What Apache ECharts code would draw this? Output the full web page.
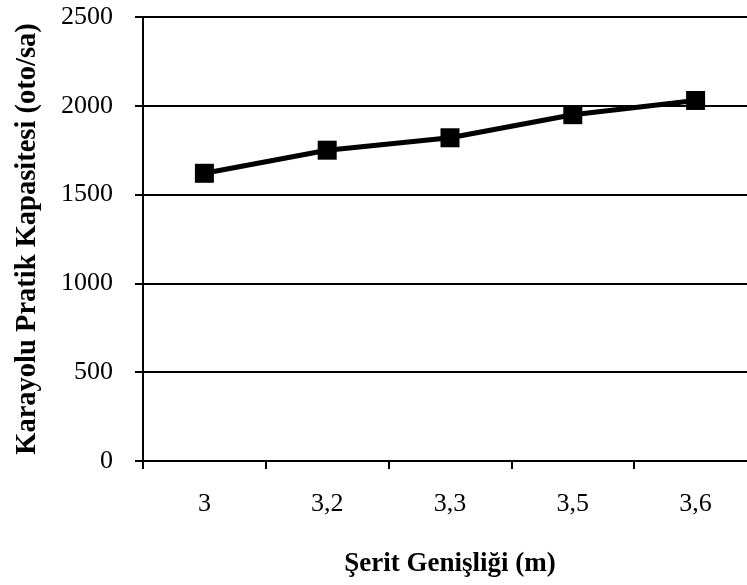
<!DOCTYPE html>
<html><head><meta charset="utf-8">
<script src="https://cdn.jsdelivr.net/npm/echarts@6/dist/echarts.min.js"></script>
<style>html,body{margin:0;padding:0;background:#fff;overflow:hidden}#c{width:760px;height:585px}</style>
</head><body><div id="c"></div>
<script>
const categories = ['3', '3,2', '3,3', '3,5', '3,6'];
const capacity = [1620, 1750, 1820, 1950, 2030];
const yTicks = [0, 500, 1000, 1500, 2000, 2500];
const xTitle = 'Şerit Genişliği (m)';
const yTitle = 'Karayolu Pratik Kapasitesi (oto/sa)';
const font = 'Liberation Serif, Times New Roman, serif';
const chart = echarts.init(document.getElementById('c'), null, {renderer: 'canvas'});
chart.setOption({
  animation: false,
  grid: {left: 143, top: 17, right: 3, bottom: 124, containLabel: false},
  xAxis: {
    type: 'category', data: categories, boundaryGap: true,
    axisLine: {lineStyle: {color: '#000', width: 2}},
    axisTick: {show: true, length: 8, lineStyle: {color: '#000', width: 2}},
    axisLabel: {color: '#000', fontFamily: font, fontSize: 26, margin: 30},
    name: xTitle, nameLocation: 'middle', nameGap: 90,
    nameTextStyle: {color: '#000', fontFamily: font, fontSize: 27, fontWeight: 'bold'}
  },
  yAxis: {
    type: 'value', min: yTicks[0], max: yTicks[yTicks.length - 1], interval: 500,
    axisLine: {show: true, lineStyle: {color: '#000', width: 2}},
    axisTick: {show: true, length: 8, lineStyle: {color: '#000', width: 2}},
    splitLine: {show: true, lineStyle: {color: '#000', width: 2}},
    axisLabel: {color: '#000', fontFamily: font, fontSize: 26, margin: 30, formatter: v => String(v)},
    name: yTitle, nameLocation: 'middle', nameGap: 101,
    nameTextStyle: {color: '#000', fontFamily: font, fontSize: 28.5, fontWeight: 'bold'}
  },
  series: [{
    type: 'line', data: capacity,
    symbol: 'rect', symbolSize: 19,
    lineStyle: {color: '#000', width: 5},
    itemStyle: {color: '#000'}
  }]
});
</script></body></html>
